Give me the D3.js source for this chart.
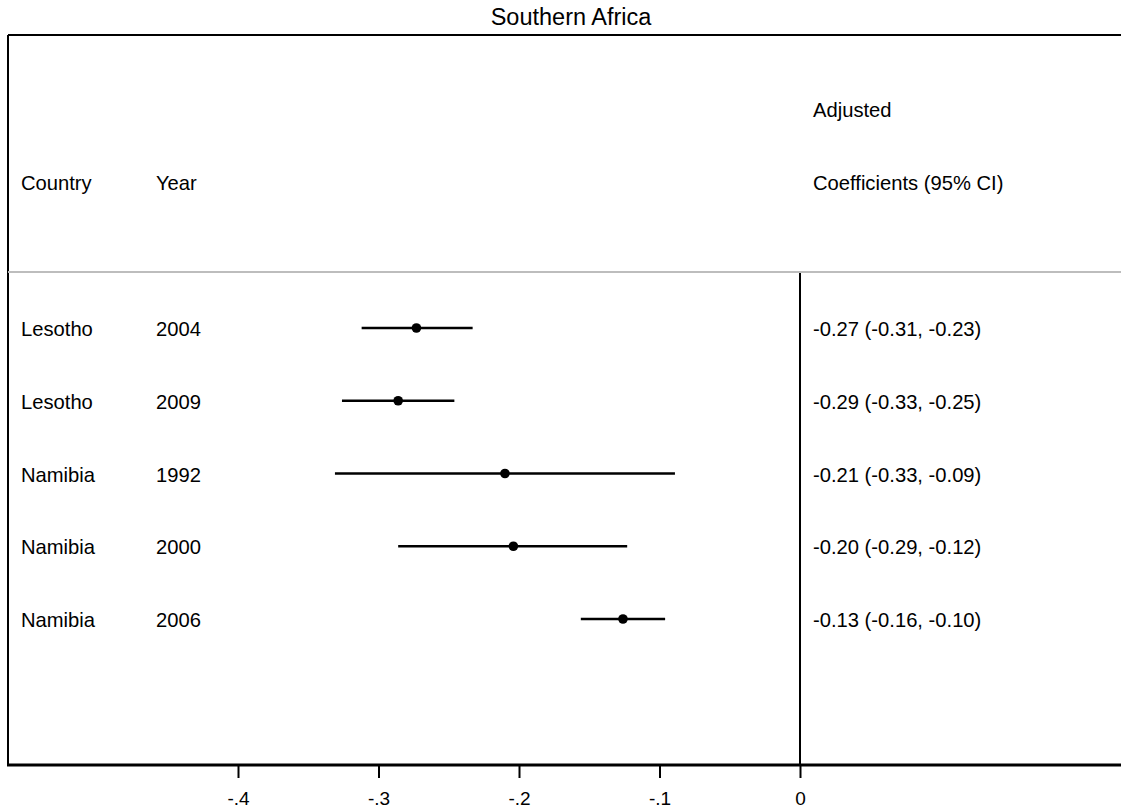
<!DOCTYPE html>
<html>
<head>
<meta charset="utf-8">
<script src="https://cdn.jsdelivr.net/npm/d3@7"></script>
<style>
  html, body { margin: 0; padding: 0; background: #fff; }
  svg { display: block; font-family: "Liberation Sans", Arial, sans-serif; }
</style>
</head>
<body>
<svg id="chart" width="1121" height="810"></svg>
<script>
// Forest plot data: one row per survey
const countries = ["Lesotho", "Lesotho", "Namibia", "Namibia", "Namibia"];
const years = ["2004", "2009", "1992", "2000", "2006"];
const estimates = [-0.273, -0.286, -0.210, -0.204, -0.126];
const lowerCI = [-0.312, -0.326, -0.331, -0.286, -0.156];
const upperCI = [-0.233, -0.246, -0.089, -0.123, -0.096];
const xTicks = [-0.4, -0.3, -0.2, -0.1, 0];
const title = "Southern Africa";

(function draw() {
  const svg = d3.select("#chart");
  const W = 1121;
  const frameLeft = 8, frameTop = 35, axisY = 765, sepY = 272;

  const x = d3.scaleLinear().domain([-0.4, 0]).range([238, 800]);
  const rows = d3.range(countries.length);
  const y = d3.scalePoint().domain(rows).range([328, 619]);

  const fmt = v => v.toFixed(2);

  // title
  svg.append("text")
    .attr("x", 571).attr("y", 25)
    .attr("text-anchor", "middle")
    .attr("font-size", 23.5)
    .attr("fill", "#000")
    .text(title);

  // frame: top and left border
  svg.append("line").attr("x1", frameLeft).attr("x2", W).attr("y1", frameTop).attr("y2", frameTop)
    .attr("stroke", "#000").attr("stroke-width", 2);
  svg.append("line").attr("x1", frameLeft).attr("x2", frameLeft).attr("y1", frameTop).attr("y2", axisY)
    .attr("stroke", "#000").attr("stroke-width", 2);

  // header / body separator
  svg.append("line").attr("x1", frameLeft).attr("x2", W).attr("y1", sepY).attr("y2", sepY)
    .attr("stroke", "#bdbdbd").attr("stroke-width", 2);

  // null line at zero
  svg.append("line").attr("x1", x(0)).attr("x2", x(0)).attr("y1", sepY + 1).attr("y2", axisY)
    .attr("stroke", "#000").attr("stroke-width", 2);

  // column headers
  const headFont = 20.2;
  svg.append("text").attr("x", 21).attr("y", 190).attr("font-size", headFont).text("Country");
  svg.append("text").attr("x", 156).attr("y", 190).attr("font-size", headFont).text("Year");
  svg.append("text").attr("x", 813).attr("y", 117).attr("font-size", headFont).text("Adjusted");
  svg.append("text").attr("x", 813).attr("y", 190).attr("font-size", headFont).text("Coefficients (95% CI)");

  // rows
  const g = svg.append("g");
  rows.forEach(i => {
    const yy = y(i);
    g.append("text").attr("x", 21).attr("y", yy + 8).attr("font-size", headFont).text(countries[i]);
    g.append("text").attr("x", 156).attr("y", yy + 8).attr("font-size", headFont).text(years[i]);
    g.append("line")
      .attr("x1", x(lowerCI[i])).attr("x2", x(upperCI[i]))
      .attr("y1", yy).attr("y2", yy)
      .attr("stroke", "#000").attr("stroke-width", 2.5);
    g.append("circle")
      .attr("cx", x(estimates[i])).attr("cy", yy).attr("r", 4.8)
      .attr("fill", "#000");
    g.append("text").attr("x", 813).attr("y", yy + 8).attr("font-size", headFont)
      .text(`${fmt(estimates[i])} (${fmt(lowerCI[i])}, ${fmt(upperCI[i])})`);
  });

  // x axis
  const axisG = svg.append("g").attr("transform", `translate(0,${axisY})`);
  axisG.append("line").attr("x1", frameLeft - 1).attr("x2", W).attr("y1", 0).attr("y2", 0)
    .attr("stroke", "#000").attr("stroke-width", 3);
  const axis = d3.axisBottom(x)
    .tickValues(xTicks)
    .tickSize(13)
    .tickPadding(14)
    .tickFormat(d => d === 0 ? "0" : d.toFixed(1).replace("0.", "."));
  const ag = axisG.append("g").call(axis);
  ag.select(".domain").remove();
  ag.selectAll(".tick line").attr("stroke", "#000").attr("stroke-width", 2);
  ag.selectAll(".tick text")
    .attr("font-size", 19)
    .attr("font-family", "\"Liberation Sans\", Arial, sans-serif")
    .attr("fill", "#000");
})();
</script>
</body>
</html>
